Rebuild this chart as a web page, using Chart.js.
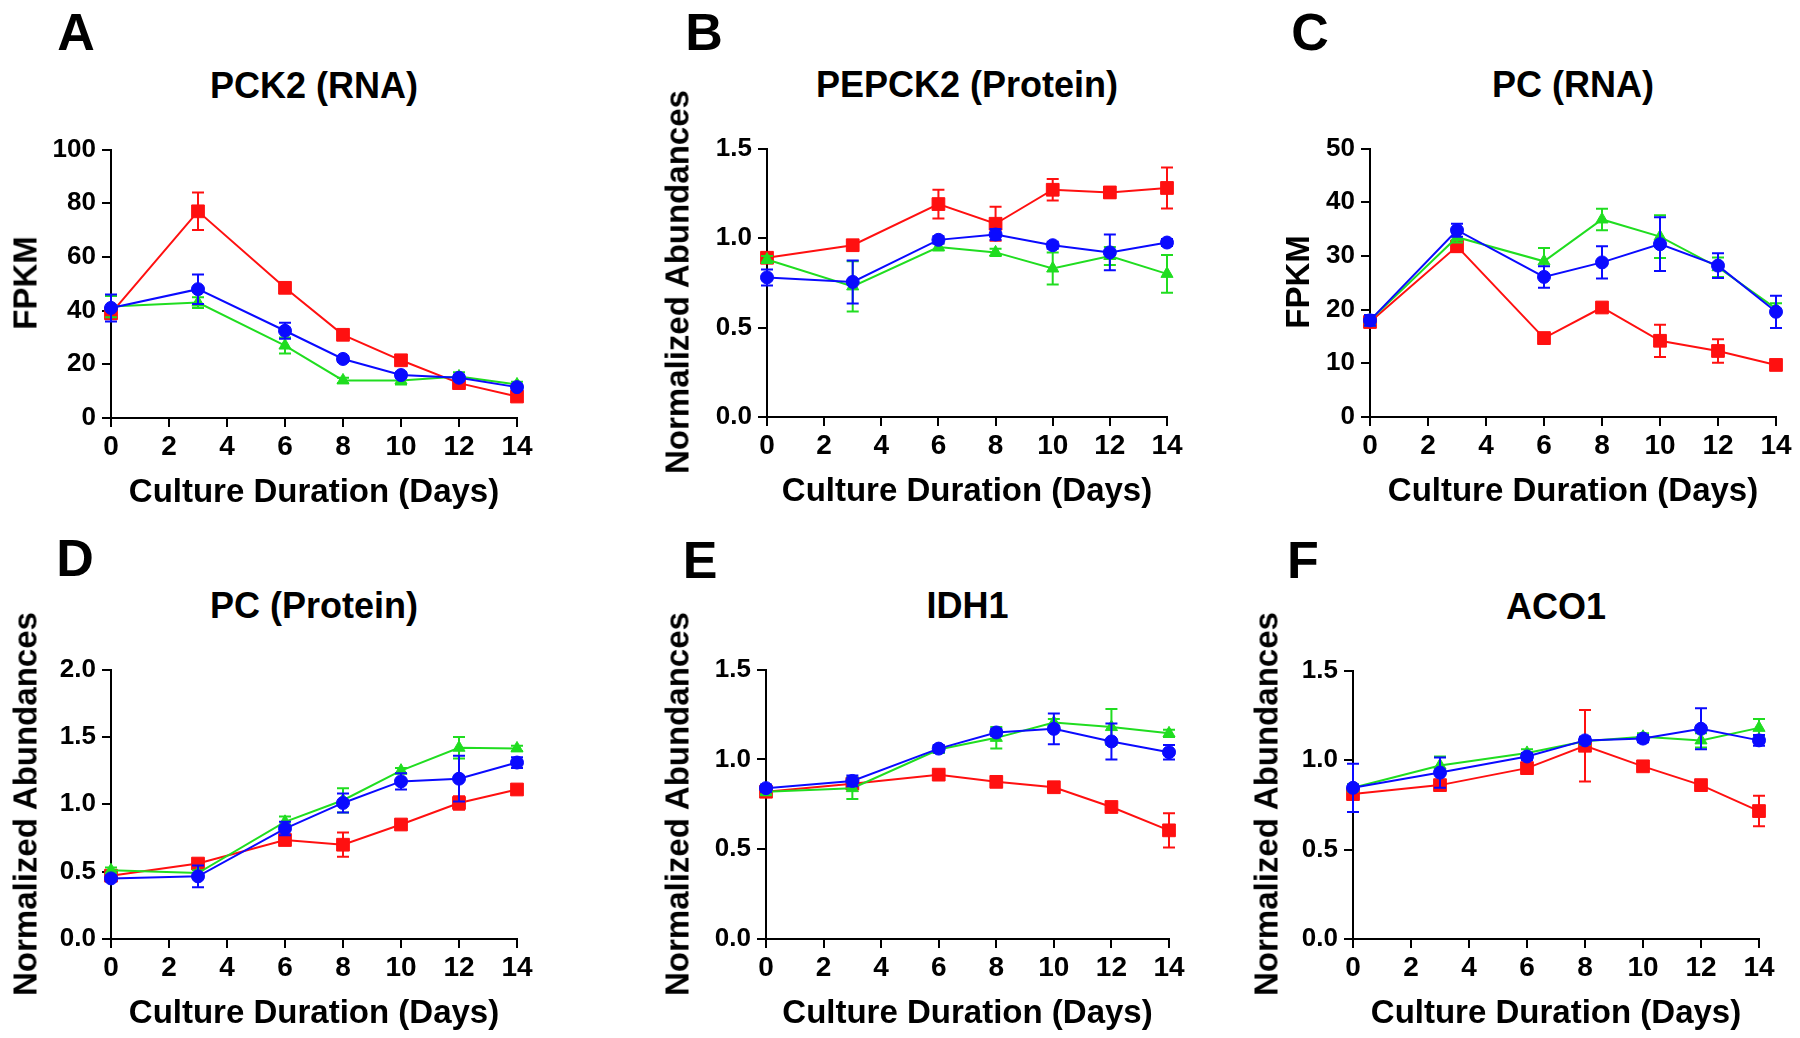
<!DOCTYPE html>
<html>
<head>
<meta charset="utf-8">
<script src="https://cdn.jsdelivr.net/npm/chart.js@4.4.1/dist/chart.umd.min.js"></script>
<style>
  body { margin: 0; background: #fff; }
  #page { position: relative; width: 1800px; height: 1038px; overflow: hidden; background: #fff;
          font-family: "Liberation Sans", Arial, sans-serif; font-weight: bold; color: #000; }
  .txt { position: absolute; white-space: nowrap; transform: translate(-50%, -50%); line-height: 1; }
  .letter { font-size: 52px; }
  .title { font-size: 36px; }
  .xtitle { font-size: 33px; }
  .ytitle { font-size: 33px; transform: translate(-50%, -50%) rotate(-90deg); }
  canvas { position: absolute; }
</style>
</head>
<body>
<div id="page"></div>
<script>
// culture days (x values shared by every panel)
const days = [0, 3, 6, 8, 10, 12, 14];
const xTicks = [0, 2, 4, 6, 8, 10, 12, 14];

// A: PCK2 (RNA), FPKM
const pck2RnaRed = [39, 77, 48.5, 31, 21.5, 13, 8];
const pck2RnaRedErr = [2, 7, 1, 1, 1, 1, 1];
const pck2RnaGreen = [41.5, 43, 27, 14, 14, 15.5, 12.5];
const pck2RnaGreenErr = [4, 2, 3, 1, 1.5, 1.5, 1];
const pck2RnaBlue = [41, 48, 32.5, 22, 16, 15, 11.5];
const pck2RnaBlueErr = [5, 5.5, 3, 1, 1, 1, 1];

// B: PEPCK2 (Protein), normalized abundances
const pepck2Red = [0.89, 0.96, 1.19, 1.08, 1.27, 1.255, 1.28];
const pepck2RedErr = [0.02, 0.02, 0.08, 0.095, 0.06, 0.03, 0.115];
const pepck2Green = [0.88, 0.73, 0.95, 0.92, 0.83, 0.90, 0.80];
const pepck2GreenErr = [0.02, 0.14, 0.02, 0.02, 0.09, 0.05, 0.105];
const pepck2Blue = [0.78, 0.755, 0.99, 1.02, 0.96, 0.92, 0.975];
const pepck2BlueErr = [0.045, 0.12, 0.02, 0.03, 0.02, 0.1, 0.02];

// C: PC (RNA), FPKM
const pcRnaRed = [17.7, 31.8, 14.7, 20.4, 14.2, 12.3, 9.7];
const pcRnaRedErr = [1, 1, 1, 0.5, 3, 2.2, 0.5];
const pcRnaGreen = [18, 33.5, 29, 36.8, 33.6, 27.9, 20.2];
const pcRnaGreenErr = [1, 1, 2.5, 2, 4, 1.8, 1];
const pcRnaBlue = [18, 34.8, 26.1, 28.8, 32.2, 28.2, 19.6];
const pcRnaBlueErr = [1, 1.2, 2, 3, 5, 2.3, 3];

// D: PC (Protein)
const pcProtRed = [0.47, 0.56, 0.735, 0.70, 0.85, 1.01, 1.11];
const pcProtRedErr = [0.02, 0.02, 0.03, 0.09, 0.02, 0.05, 0.02];
const pcProtGreen = [0.51, 0.49, 0.87, 1.03, 1.25, 1.42, 1.415];
const pcProtGreenErr = [0.02, 0.02, 0.04, 0.09, 0.02, 0.08, 0.02];
const pcProtBlue = [0.45, 0.465, 0.82, 1.01, 1.17, 1.19, 1.31];
const pcProtBlueErr = [0.02, 0.08, 0.05, 0.07, 0.06, 0.17, 0.04];

// E: IDH1
const idh1Red = [0.82, 0.865, 0.915, 0.875, 0.845, 0.735, 0.605];
const idh1RedErr = [0.02, 0.02, 0.02, 0.02, 0.02, 0.02, 0.095];
const idh1Green = [0.82, 0.84, 1.055, 1.12, 1.205, 1.18, 1.145];
const idh1GreenErr = [0.02, 0.06, 0.02, 0.06, 0.02, 0.1, 0.02];
const idh1Blue = [0.84, 0.88, 1.06, 1.15, 1.17, 1.10, 1.04];
const idh1BlueErr = [0.02, 0.03, 0.02, 0.02, 0.085, 0.1, 0.04];

// F: ACO1
const aco1Red = [0.81, 0.86, 0.955, 1.08, 0.965, 0.86, 0.715];
const aco1RedErr = [0.02, 0.02, 0.02, 0.2, 0.02, 0.02, 0.085];
const aco1Green = [0.845, 0.97, 1.04, 1.105, 1.13, 1.11, 1.18];
const aco1GreenErr = [0.02, 0.05, 0.02, 0.02, 0.02, 0.04, 0.05];
const aco1Blue = [0.845, 0.93, 1.02, 1.11, 1.12, 1.175, 1.11];
const aco1BlueErr = [0.135, 0.085, 0.02, 0.02, 0.02, 0.115, 0.03];

const panels = [
  { letter: 'A', title: 'PCK2 (RNA)', yTitle: 'FPKM', yMax: 100, yStep: 20, dec: 0,
    red: [pck2RnaRed, pck2RnaRedErr], green: [pck2RnaGreen, pck2RnaGreenErr], blue: [pck2RnaBlue, pck2RnaBlueErr],
    box: { L: 111, T: 148, W: 406, H: 270 }, letterPos: [76, 32], yTitleX: 25 },
  { letter: 'B', title: 'PEPCK2 (Protein)', yTitle: 'Normalized Abundances', yMax: 1.5, yStep: 0.5, dec: 1,
    red: [pepck2Red, pepck2RedErr], green: [pepck2Green, pepck2GreenErr], blue: [pepck2Blue, pepck2BlueErr],
    box: { L: 767, T: 147, W: 400, H: 270 }, letterPos: [704, 32], yTitleX: 677 },
  { letter: 'C', title: 'PC (RNA)', yTitle: 'FPKM', yMax: 50, yStep: 10, dec: 0,
    red: [pcRnaRed, pcRnaRedErr], green: [pcRnaGreen, pcRnaGreenErr], blue: [pcRnaBlue, pcRnaBlueErr],
    box: { L: 1370, T: 147, W: 406, H: 270 }, letterPos: [1310, 32], yTitleX: 1297 },
  { letter: 'D', title: 'PC (Protein)', yTitle: 'Normalized Abundances', yMax: 2.0, yStep: 0.5, dec: 1,
    red: [pcProtRed, pcProtRedErr], green: [pcProtGreen, pcProtGreenErr], blue: [pcProtBlue, pcProtBlueErr],
    box: { L: 111, T: 668, W: 406, H: 271 }, letterPos: [75, 558], yTitleX: 25 },
  { letter: 'E', title: 'IDH1', yTitle: 'Normalized Abundances', yMax: 1.5, yStep: 0.5, dec: 1,
    red: [idh1Red, idh1RedErr], green: [idh1Green, idh1GreenErr], blue: [idh1Blue, idh1BlueErr],
    box: { L: 766, T: 668, W: 403, H: 271 }, letterPos: [700, 560], yTitleX: 677 },
  { letter: 'F', title: 'ACO1', yTitle: 'Normalized Abundances', yMax: 1.5, yStep: 0.5, dec: 1,
    red: [aco1Red, aco1RedErr], green: [aco1Green, aco1GreenErr], blue: [aco1Blue, aco1BlueErr],
    box: { L: 1353, T: 669, W: 406, H: 270 }, letterPos: [1303, 560], yTitleX: 1266 }
];

const COLORS = { red: '#ff1010', green: '#20dd20', blue: '#0a0aff' };
const FONT = '"Liberation Sans", Arial, sans-serif';
const PAD_LEFT = 110, PAD_TOP = 20, PAD_RIGHT = 34, PAD_BOTTOM = 70;

// vertical error bars with caps, drawn just before each series so its marker sits on top
const errorBars = {
  id: 'errorBars',
  beforeDatasetDraw(chart, args) {
    const ds = chart.data.datasets[args.index];
    if (!ds.errors) return;
    const ctx = chart.ctx;
    const xs = chart.scales.x;
    const ys = chart.scales.y;
    ctx.save();
    ctx.strokeStyle = ds.borderColor;
    ctx.lineWidth = 2;
    ds.data.forEach((pt, i) => {
      const e = ds.errors[i];
      const x = xs.getPixelForValue(pt.x);
      const yTop = ys.getPixelForValue(pt.y + e);
      const yBot = ys.getPixelForValue(pt.y - e);
      ctx.beginPath();
      ctx.moveTo(x, yTop); ctx.lineTo(x, yBot);
      ctx.moveTo(x - 6, yTop); ctx.lineTo(x + 6, yTop);
      ctx.moveTo(x - 6, yBot); ctx.lineTo(x + 6, yBot);
      ctx.stroke();
    });
    ctx.restore();
  }
};

const makeSeries = (name, pair, style, radius, order) => ({
  label: name,
  data: days.map((d, i) => ({ x: d, y: pair[0][i] })),
  errors: pair[1],
  borderColor: COLORS[name],
  backgroundColor: COLORS[name],
  borderWidth: 2,
  pointStyle: style,
  pointRadius: radius,
  pointBorderWidth: 1,
  clip: false,
  order: order
});

const addText = (cls, text, x, y) => {
  const el = document.createElement('div');
  el.className = 'txt ' + cls;
  el.textContent = text;
  el.style.left = x + 'px';
  el.style.top = y + 'px';
  document.getElementById('page').appendChild(el);
};

panels.forEach(p => {
  const b = p.box;
  const canvas = document.createElement('canvas');
  canvas.width = PAD_LEFT + b.W + PAD_RIGHT;
  canvas.height = PAD_TOP + b.H + PAD_BOTTOM;
  canvas.style.left = (b.L - PAD_LEFT) + 'px';
  canvas.style.top = (b.T - PAD_TOP) + 'px';
  document.getElementById('page').appendChild(canvas);

  const cx = b.L + b.W / 2;
  const cy = b.T + b.H / 2;
  addText('letter', p.letter, p.letterPos[0], p.letterPos[1]);
  addText('title', p.title, cx, b.T - 62);
  addText('xtitle', 'Culture Duration (Days)', cx, b.T + b.H + 72);
  addText('ytitle', p.yTitle, p.yTitleX, cy);

  const axisStyle = {
    grid: { drawOnChartArea: false, drawTicks: true, tickLength: 9, color: '#000', lineWidth: 2 },
    border: { display: true, color: '#000', width: 2 }
  };

  new Chart(canvas, {
    type: 'line',
    data: {
      datasets: [
        makeSeries('red', p.red, 'rect', 9, 3),
        makeSeries('green', p.green, 'triangle', 7, 2),
        makeSeries('blue', p.blue, 'circle', 6.5, 1)
      ]
    },
    plugins: [errorBars],
    options: {
      responsive: false,
      animation: false,
      devicePixelRatio: 1,
      layout: { padding: { left: 0, top: PAD_TOP, right: PAD_RIGHT, bottom: 0 } },
      plugins: { legend: { display: false }, tooltip: { enabled: false }, title: { display: false } },
      scales: {
        x: {
          type: 'linear', min: 0, max: 14,
          afterBuildTicks: s => { s.ticks = xTicks.map(v => ({ value: v })); },
          ticks: { color: '#000', padding: 3, maxRotation: 0, font: { family: FONT, size: 28, weight: 'bold' } },
          afterFit: s => { s.height = PAD_BOTTOM; },
          ...axisStyle
        },
        y: {
          type: 'linear', min: 0, max: p.yMax,
          ticks: {
            stepSize: p.yStep, color: '#000', padding: 6,
            font: { family: FONT, size: 26, weight: 'bold' },
            callback: v => Number(v).toFixed(p.dec)
          },
          afterFit: s => { s.width = PAD_LEFT; },
          ...axisStyle
        }
      }
    }
  });
});
</script>
</body>
</html>
